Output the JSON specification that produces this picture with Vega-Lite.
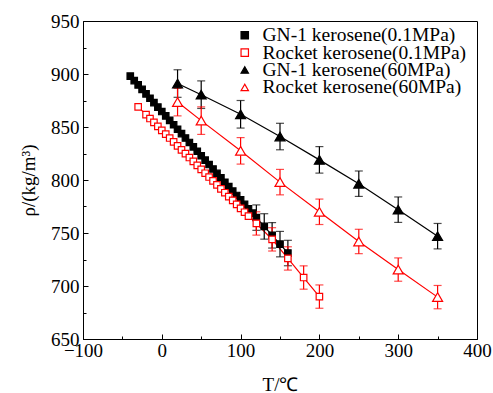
{
  "$schema": "https://vega.github.io/schema/vega-lite/v6.json",
  "width": 394,
  "height": 318,
  "autosize": {"type": "none"},
  "padding": {"left": 83, "top": 21, "right": 16, "bottom": 54},
  "background": "white",
  "config": {
    "view": {"stroke": "black", "strokeWidth": 1},
    "font": "Liberation Serif",
    "axis": {
      "grid": false,
      "domainColor": "black",
      "domainWidth": 1,
      "tickColor": "black",
      "tickWidth": 1,
      "labelColor": "black",
      "titleColor": "black",
      "labelFont": "Liberation Serif",
      "titleFont": "Liberation Serif",
      "labelFontSize": 19,
      "titleFontSize": 19,
      "titleFontWeight": "normal",
      "labelOverlap": false,
      "labelFlush": false
    },
    "legend": {
      "labelFont": "Liberation Serif",
      "orient": "none",
      "legendX": 152,
      "legendY": 7,
      "padding": 0,
      "title": null,
      "labelFontSize": 19.5,
      "labelColor": "black",
      "labelOffset": 8,
      "labelLimit": 400,
      "symbolSize": 55,
      "symbolStrokeWidth": 1.2,
      "symbolOpacity": 1,
      "clipHeight": 14.4,
      "rowPadding": -2.6
    }
  },
  "data": {
    "values": [
      {"series": "GN-1 kerosene(0.1MPa)", "T": -40, "rho": 898.0},
      {"series": "GN-1 kerosene(0.1MPa)", "T": -35, "rho": 893.8},
      {"series": "GN-1 kerosene(0.1MPa)", "T": -30, "rho": 889.7},
      {"series": "GN-1 kerosene(0.1MPa)", "T": -25, "rho": 885.5},
      {"series": "GN-1 kerosene(0.1MPa)", "T": -20, "rho": 881.3},
      {"series": "GN-1 kerosene(0.1MPa)", "T": -15, "rho": 877.1},
      {"series": "GN-1 kerosene(0.1MPa)", "T": -10, "rho": 873.0},
      {"series": "GN-1 kerosene(0.1MPa)", "T": -5, "rho": 868.8},
      {"series": "GN-1 kerosene(0.1MPa)", "T": 0, "rho": 864.6},
      {"series": "GN-1 kerosene(0.1MPa)", "T": 5, "rho": 860.5},
      {"series": "GN-1 kerosene(0.1MPa)", "T": 10, "rho": 856.3},
      {"series": "GN-1 kerosene(0.1MPa)", "T": 15, "rho": 852.1},
      {"series": "GN-1 kerosene(0.1MPa)", "T": 20, "rho": 847.9},
      {"series": "GN-1 kerosene(0.1MPa)", "T": 25, "rho": 843.8},
      {"series": "GN-1 kerosene(0.1MPa)", "T": 30, "rho": 839.6},
      {"series": "GN-1 kerosene(0.1MPa)", "T": 35, "rho": 835.4},
      {"series": "GN-1 kerosene(0.1MPa)", "T": 40, "rho": 831.3},
      {"series": "GN-1 kerosene(0.1MPa)", "T": 45, "rho": 827.1},
      {"series": "GN-1 kerosene(0.1MPa)", "T": 50, "rho": 822.9},
      {"series": "GN-1 kerosene(0.1MPa)", "T": 55, "rho": 818.7},
      {"series": "GN-1 kerosene(0.1MPa)", "T": 60, "rho": 814.6},
      {"series": "GN-1 kerosene(0.1MPa)", "T": 65, "rho": 810.4},
      {"series": "GN-1 kerosene(0.1MPa)", "T": 70, "rho": 806.2},
      {"series": "GN-1 kerosene(0.1MPa)", "T": 75, "rho": 802.1},
      {"series": "GN-1 kerosene(0.1MPa)", "T": 80, "rho": 797.9},
      {"series": "GN-1 kerosene(0.1MPa)", "T": 85, "rho": 793.7},
      {"series": "GN-1 kerosene(0.1MPa)", "T": 90, "rho": 789.5},
      {"series": "GN-1 kerosene(0.1MPa)", "T": 95, "rho": 785.4},
      {"series": "GN-1 kerosene(0.1MPa)", "T": 100, "rho": 781.2},
      {"series": "GN-1 kerosene(0.1MPa)", "T": 105, "rho": 777.0},
      {"series": "GN-1 kerosene(0.1MPa)", "T": 110, "rho": 772.9},
      {"series": "GN-1 kerosene(0.1MPa)", "T": 115, "rho": 768.7},
      {"series": "GN-1 kerosene(0.1MPa)", "T": 120, "rho": 764.5, "err": 12},
      {"series": "GN-1 kerosene(0.1MPa)", "T": 130, "rho": 756.2, "err": 12},
      {"series": "GN-1 kerosene(0.1MPa)", "T": 140, "rho": 747.8, "err": 12},
      {"series": "GN-1 kerosene(0.1MPa)", "T": 150, "rho": 739.5, "err": 12},
      {"series": "GN-1 kerosene(0.1MPa)", "T": 160, "rho": 731.1, "err": 12},
      {"series": "Rocket kerosene(0.1MPa)", "T": -30, "rho": 869.0},
      {"series": "Rocket kerosene(0.1MPa)", "T": -20, "rho": 861.6},
      {"series": "Rocket kerosene(0.1MPa)", "T": -15, "rho": 858.0},
      {"series": "Rocket kerosene(0.1MPa)", "T": -10, "rho": 854.3},
      {"series": "Rocket kerosene(0.1MPa)", "T": -5, "rho": 850.6},
      {"series": "Rocket kerosene(0.1MPa)", "T": 0, "rho": 846.9},
      {"series": "Rocket kerosene(0.1MPa)", "T": 5, "rho": 843.2},
      {"series": "Rocket kerosene(0.1MPa)", "T": 10, "rho": 839.6},
      {"series": "Rocket kerosene(0.1MPa)", "T": 15, "rho": 835.9},
      {"series": "Rocket kerosene(0.1MPa)", "T": 20, "rho": 832.2},
      {"series": "Rocket kerosene(0.1MPa)", "T": 25, "rho": 828.5},
      {"series": "Rocket kerosene(0.1MPa)", "T": 30, "rho": 824.8},
      {"series": "Rocket kerosene(0.1MPa)", "T": 35, "rho": 821.2},
      {"series": "Rocket kerosene(0.1MPa)", "T": 40, "rho": 817.5},
      {"series": "Rocket kerosene(0.1MPa)", "T": 45, "rho": 813.8},
      {"series": "Rocket kerosene(0.1MPa)", "T": 50, "rho": 810.1},
      {"series": "Rocket kerosene(0.1MPa)", "T": 55, "rho": 806.4},
      {"series": "Rocket kerosene(0.1MPa)", "T": 60, "rho": 802.8},
      {"series": "Rocket kerosene(0.1MPa)", "T": 65, "rho": 799.1},
      {"series": "Rocket kerosene(0.1MPa)", "T": 70, "rho": 795.4},
      {"series": "Rocket kerosene(0.1MPa)", "T": 75, "rho": 791.7},
      {"series": "Rocket kerosene(0.1MPa)", "T": 80, "rho": 788.0},
      {"series": "Rocket kerosene(0.1MPa)", "T": 85, "rho": 784.4},
      {"series": "Rocket kerosene(0.1MPa)", "T": 90, "rho": 780.7},
      {"series": "Rocket kerosene(0.1MPa)", "T": 95, "rho": 777.0},
      {"series": "Rocket kerosene(0.1MPa)", "T": 100, "rho": 773.3},
      {"series": "Rocket kerosene(0.1MPa)", "T": 105, "rho": 769.6},
      {"series": "Rocket kerosene(0.1MPa)", "T": 110, "rho": 766.0},
      {"series": "Rocket kerosene(0.1MPa)", "T": 120, "rho": 759.0, "err": 11},
      {"series": "Rocket kerosene(0.1MPa)", "T": 140, "rho": 744.0, "err": 11},
      {"series": "Rocket kerosene(0.1MPa)", "T": 160, "rho": 726.0, "err": 11},
      {"series": "Rocket kerosene(0.1MPa)", "T": 180, "rho": 708.0, "err": 11},
      {"series": "Rocket kerosene(0.1MPa)", "T": 200, "rho": 690.0, "err": 11},
      {"series": "GN-1 kerosene(60MPa)", "T": 20, "rho": 891.0, "err": 13},
      {"series": "GN-1 kerosene(60MPa)", "T": 50, "rho": 880.5, "err": 13},
      {"series": "GN-1 kerosene(60MPa)", "T": 100, "rho": 862.0, "err": 13},
      {"series": "GN-1 kerosene(60MPa)", "T": 150, "rho": 841.0, "err": 12.5},
      {"series": "GN-1 kerosene(60MPa)", "T": 200, "rho": 819.0, "err": 12.5},
      {"series": "GN-1 kerosene(60MPa)", "T": 250, "rho": 796.5, "err": 12},
      {"series": "GN-1 kerosene(60MPa)", "T": 300, "rho": 772.0, "err": 12},
      {"series": "GN-1 kerosene(60MPa)", "T": 350, "rho": 747.0, "err": 12},
      {"series": "Rocket kerosene(60MPa)", "T": 20, "rho": 873.5, "err": 13},
      {"series": "Rocket kerosene(60MPa)", "T": 50, "rho": 856.0, "err": 13},
      {"series": "Rocket kerosene(60MPa)", "T": 100, "rho": 827.5, "err": 12.5},
      {"series": "Rocket kerosene(60MPa)", "T": 150, "rho": 798.0, "err": 12},
      {"series": "Rocket kerosene(60MPa)", "T": 200, "rho": 770.0, "err": 12},
      {"series": "Rocket kerosene(60MPa)", "T": 250, "rho": 742.0, "err": 11.5},
      {"series": "Rocket kerosene(60MPa)", "T": 300, "rho": 715.5, "err": 11},
      {"series": "Rocket kerosene(60MPa)", "T": 350, "rho": 689.5, "err": 11}
    ]
  },
  "encoding": {
    "x": {
      "field": "T",
      "type": "quantitative",
      "scale": {"domain": [-100, 400], "nice": false, "zero": false},
      "axis": {
        "values": [-100, -50, 0, 50, 100, 150, 200, 250, 300, 350, 400],
        "labelExpr": "datum.value % 100 === 0 ? datum.label : ''",
        "tickSize": {"condition": {"test": "datum.value % 100 === 0", "value": -5}, "value": -3},
        "labelPadding": 7,
        "title": "T/℃",
        "titlePadding": 13
      }
    },
    "y": {
      "field": "rho",
      "type": "quantitative",
      "scale": {"domain": [650, 950], "nice": false, "zero": false},
      "axis": {
        "values": [650, 675, 700, 725, 750, 775, 800, 825, 850, 875, 900, 925, 950],
        "labelExpr": "datum.value % 50 === 0 ? datum.label : ''",
        "tickSize": {"condition": {"test": "datum.value % 50 === 0", "value": -5}, "value": -3},
        "labelPadding": 9,
        "title": "ρ/(kg/m³)",
        "titlePadding": 12
      }
    }
  },
  "layer": [
    {
      "transform": [{"filter": "indexof(datum.series, 'GN-1') >= 0"}],
      "mark": {"type": "line", "strokeWidth": 1.2, "color": "black"},
      "encoding": {"detail": {"field": "series"}}
    },
    {
      "transform": [{"filter": "indexof(datum.series, 'Rocket') >= 0"}],
      "mark": {"type": "line", "strokeWidth": 1.2, "color": "red"},
      "encoding": {"detail": {"field": "series"}}
    },
    {
      "transform": [{"filter": "isValid(datum.err) && indexof(datum.series, 'GN-1') >= 0"}],
      "mark": {"type": "errorbar", "ticks": true, "size": 8, "thickness": 1.2, "color": "black"},
      "encoding": {"yError": {"field": "err"}}
    },
    {
      "transform": [{"filter": "isValid(datum.err) && indexof(datum.series, 'Rocket') >= 0"}],
      "mark": {"type": "errorbar", "ticks": true, "size": 8, "thickness": 1.2, "color": "red"},
      "encoding": {"yError": {"field": "err"}}
    },
    {
      "transform": [{"filter": "indexof(datum.series, '0.1MPa') >= 0"}],
      "mark": {"type": "point", "strokeWidth": 1.2, "opacity": 1, "size": 42},
      "encoding": {
        "color": {
          "field": "series",
          "type": "nominal",
          "scale": {
            "domain": ["GN-1 kerosene(0.1MPa)", "Rocket kerosene(0.1MPa)", "GN-1 kerosene(60MPa)", "Rocket kerosene(60MPa)"],
            "range": ["black", "red", "black", "red"]
          }
        },
        "fill": {
          "field": "series",
          "type": "nominal",
          "scale": {
            "domain": ["GN-1 kerosene(0.1MPa)", "Rocket kerosene(0.1MPa)", "GN-1 kerosene(60MPa)", "Rocket kerosene(60MPa)"],
            "range": ["black", "white", "black", "white"]
          }
        },
        "shape": {
          "field": "series",
          "type": "nominal",
          "scale": {
            "domain": ["GN-1 kerosene(0.1MPa)", "Rocket kerosene(0.1MPa)", "GN-1 kerosene(60MPa)", "Rocket kerosene(60MPa)"],
            "range": ["square", "square", "triangle-up", "triangle-up"]
          }
        }
      }
    },
    {
      "transform": [{"filter": "indexof(datum.series, '60MPa') >= 0"}],
      "mark": {"type": "point", "strokeWidth": 1.2, "opacity": 1, "size": 100},
      "encoding": {
        "color": {"field": "series", "type": "nominal"},
        "fill": {"field": "series", "type": "nominal"},
        "shape": {"field": "series", "type": "nominal"}
      }
    }
  ]
}
